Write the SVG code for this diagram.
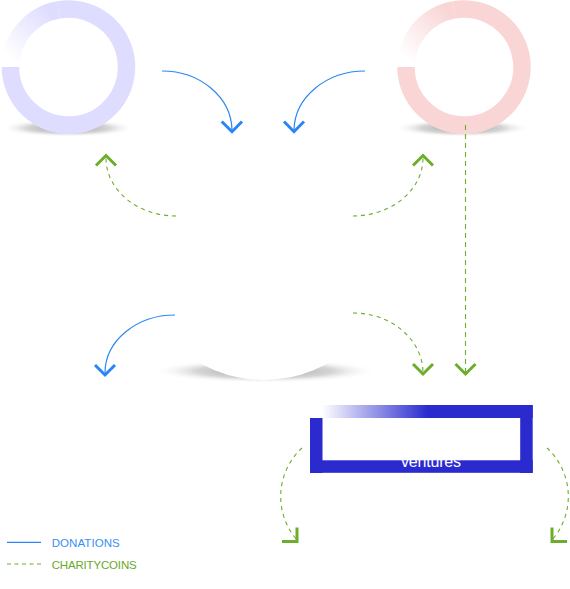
<svg xmlns="http://www.w3.org/2000/svg" width="570" height="589" viewBox="0 0 570 589">
<style>
.blue{fill:none;stroke:#2a86f4;stroke-width:1.2}
.green{fill:none;stroke:#6cad2b;stroke-width:1.1;stroke-dasharray:4 4}
.headB{fill:none;stroke:#2a86f4;stroke-width:3}
.headG{fill:none;stroke:#6cad2b;stroke-width:3}
.leg{font-family:"Liberation Sans",Arial,sans-serif;font-size:11.5px}
</style>
<defs>
<radialGradient id="shadow" cx="0.5" cy="0.5" r="0.5">
<stop offset="0" stop-color="#888" stop-opacity="0.85"/>
<stop offset="0.6" stop-color="#aaa" stop-opacity="0.5"/>
<stop offset="1" stop-color="#fff" stop-opacity="0"/>
</radialGradient>
<linearGradient id="fadeL" gradientUnits="userSpaceOnUse" x1="12" y1="60" x2="55" y2="14">
<stop offset="0" stop-color="#dedcff" stop-opacity="0"/>
<stop offset="1" stop-color="#dedcff"/>
</linearGradient>
<linearGradient id="fadeR" gradientUnits="userSpaceOnUse" x1="408" y1="60" x2="451" y2="14">
<stop offset="0" stop-color="#f9d5d6" stop-opacity="0"/>
<stop offset="1" stop-color="#f9d5d6"/>
</linearGradient>
<linearGradient id="fadeBox" gradientUnits="userSpaceOnUse" x1="322" y1="0" x2="428" y2="0">
<stop offset="0" stop-color="#2a2acf" stop-opacity="0"/>
<stop offset="1" stop-color="#2a2acf"/>
</linearGradient>
</defs>
<rect width="570" height="589" fill="#fff"/>

<g id="node-left">
<ellipse cx="68" cy="128" rx="68" ry="9" fill="url(#shadow)"/>
<circle cx="68.5" cy="67" r="66.5" fill="#fff"/>
<path d="M58.4 9.9 A58 58 0 1 1 10.5 67" fill="none" stroke="#dedcff" stroke-width="17.5"/>
<path d="M10.5 67 A58 58 0 0 1 58.4 9.9" fill="none" stroke="url(#fadeL)" stroke-width="17.5"/>
</g>

<g id="node-right">
<ellipse cx="462" cy="128" rx="68" ry="9" fill="url(#shadow)"/>
<circle cx="464" cy="67" r="66.5" fill="#fff"/>
<path d="M453.9 9.9 A58 58 0 1 1 406 67" fill="none" stroke="#f9d5d6" stroke-width="17.5"/>
<path d="M406 67 A58 58 0 0 1 453.9 9.9" fill="none" stroke="url(#fadeR)" stroke-width="17.5"/>
</g>

<g id="node-center">
<ellipse cx="265" cy="371" rx="113" ry="12" fill="url(#shadow)"/>
<circle cx="264" cy="251" r="129" fill="#fff"/>
</g>

<g id="node-ventures">
<rect x="310" y="418" width="12.5" height="55" fill="#2a2acf"/>
<rect x="310" y="460.3" width="222.7" height="12.5" fill="#2a2acf"/>
<rect x="520.2" y="405" width="12.5" height="68" fill="#2a2acf"/>
<rect x="310" y="405" width="222.7" height="13" fill="url(#fadeBox)"/>
<text x="431" y="466.5" text-anchor="middle" fill="#fff" font-family="Liberation Sans, Arial, sans-serif" font-size="16" textLength="60">ventures</text>
</g>

<g id="connectors">
<path class="blue" d="M162 71 A70 60 0 0 1 232 130"/>
<path class="headB" d="M221.7 121.5 L232 131.7 L242 121.5"/>
<path class="blue" d="M365 71 A71 60 0 0 0 294 130"/>
<path class="headB" d="M284 121.5 L294 131.7 L304 121.5"/>
<path class="green" d="M176 216 A70 58 0 0 1 106 158"/>
<path class="headG" d="M96 165.5 L106 155.5 L116 165.5"/>
<path class="green" d="M353 216 A70 58 0 0 0 423 158"/>
<path class="headG" d="M413 165.5 L423 155.5 L433 165.5"/>
<path class="blue" d="M175 315 A70 58 0 0 0 105 373"/>
<path class="headB" d="M95 365 L105 375 L115 365"/>
<path class="green" d="M353 313 A70 60 0 0 1 423 372"/>
<path class="headG" d="M413 364 L423 374 L433 364"/>
<path class="green" d="M465.5 125 L465.5 372" style="stroke-dasharray:5 4"/>
<path class="headG" d="M455.5 364 L465.5 374 L475.5 364"/>
<path class="green" d="M302 448 A66 66 0 0 0 297 540"/>
<path class="headG" d="M297 527.5 L297 541.5 L282 541.5"/>
<path class="green" d="M547 448 A66 66 0 0 1 552 540"/>
<path class="headG" d="M552 527.5 L552 541.5 L567 541.5"/>
</g>

<g id="legend">
<line x1="7" y1="542.3" x2="41" y2="542.3" stroke="#2a86f4" stroke-width="1.2"/>
<text class="leg" x="51.7" y="546.8" fill="#3a8ef2" textLength="68">DONATIONS</text>
<line x1="7" y1="564" x2="41" y2="564" stroke="#6cad2b" stroke-width="1.1" stroke-dasharray="4 3.5"/>
<text class="leg" x="51.7" y="568.5" fill="#6aa82a" textLength="85">CHARITYCOINS</text>
</g>
</svg>
